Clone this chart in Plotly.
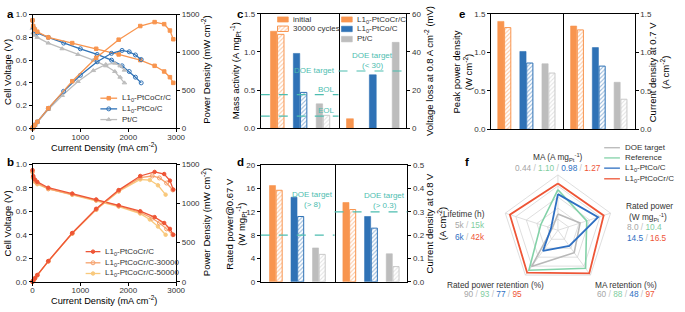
import plotly.graph_objects as go

W, H = 685, 312
FONT = "Liberation Sans, Arial, sans-serif"

# ---------------- data ----------------
# panel a : polarization / power curves
a_i_cocr = [0, 15, 50, 100, 330, 830, 1330, 1800, 2250, 2550, 2750, 2870, 2940]
a_v_cocr = [0.95, 0.90, 0.87, 0.85, 0.80, 0.75, 0.70, 0.65, 0.60, 0.55, 0.50, 0.45, 0.40]
a_p_cocr = [0, 14, 44, 85, 264, 622, 931, 1170, 1350, 1402, 1375, 1291, 1176]

a_i_co = [0, 15, 50, 100, 330, 650, 1000, 1350, 1650, 1870, 2020, 2150, 2270]
a_v_co = [0.95, 0.89, 0.86, 0.84, 0.80, 0.75, 0.70, 0.65, 0.60, 0.55, 0.50, 0.45, 0.40]
a_p_co = [0, 13, 43, 84, 264, 488, 700, 878, 990, 1028, 1010, 968, 908]

a_i_pt = [0, 15, 50, 100, 330, 620, 950, 1270, 1530, 1720, 1830, 1920]
a_v_pt = [0.88, 0.84, 0.82, 0.80, 0.75, 0.70, 0.65, 0.60, 0.55, 0.50, 0.45, 0.40]
a_p_pt = [0, 13, 41, 80, 248, 434, 618, 762, 842, 860, 824, 768]

# panel b : durability curves
b_i_0 = [0, 15, 50, 100, 330, 830, 1330, 1800, 2250, 2550, 2750, 2870, 2940]
b_v_0 = [0.95, 0.90, 0.87, 0.85, 0.80, 0.75, 0.70, 0.65, 0.60, 0.55, 0.50, 0.45, 0.40]
b_p_0 = [0, 14, 44, 85, 264, 622, 931, 1170, 1350, 1402, 1375, 1291, 1176]

b_i_30 = [0, 15, 50, 100, 330, 830, 1330, 1800, 2250, 2500, 2650, 2800, 2930]
b_v_30 = [0.94, 0.89, 0.86, 0.84, 0.79, 0.745, 0.695, 0.645, 0.59, 0.54, 0.50, 0.45, 0.40]
b_p_30 = [0, 13, 43, 84, 261, 618, 924, 1161, 1328, 1350, 1325, 1260, 1172]

b_i_50 = [0, 15, 50, 100, 330, 830, 1330, 1800, 2250, 2450, 2620, 2780]
b_v_50 = [0.93, 0.88, 0.85, 0.83, 0.79, 0.74, 0.69, 0.64, 0.58, 0.53, 0.47, 0.40]
b_p_50 = [0, 13, 42, 83, 261, 614, 918, 1152, 1305, 1298, 1231, 1112]

catalysts = ["L1<sub>0</sub>-PtCoCr/C", "L1<sub>0</sub>-PtCo/C", "Pt/C"]
cat_pos = [0, 1, 2]

# panel c
c_ma_initial = [1.27, 0.98, 0.32]
c_ma_cycled = [1.23, 0.47, 0.17]
c_doe_bol = 0.44
c_doe_eol = 0.16
c_vloss = [5, 28, 45]
c_doe_vloss = 30

# panel d
d_rated_initial = [16.5, 14.5, 5.8]
d_rated_cycled = [15.7, 11.2, 4.7]
d_doe_rated = 8
d_j08_initial = [0.34, 0.28, 0.12]
d_j08_cycled = [0.31, 0.23, 0.065]
d_doe_j08 = 0.3

# panel e
e_ppd_initial = [1.40, 1.01, 0.85]
e_ppd_cycled = [1.32, 0.86, 0.73]
e_j07_initial = [1.34, 1.06, 0.61]
e_j07_cycled = [1.29, 0.82, 0.39]

# panel f : radar
f_axes = ["MA", "Rated power", "MA retention", "Rated power retention", "Lifetime"]
f_scale_lo = [0, 0, 20, 60, 0]
f_scale_hi = [1.5, 19, 100, 97, 46]
f_doe = [0.44, 8.0, 60, 90, 5]
f_ref = [1.10, 10.4, 88, 93, 15]
f_ptco = [0.98, 14.5, 48, 77, 6]
f_ptcocr = [1.27, 16.5, 97, 95, 42]

# ---------------- style ----------------
ORANGE = "#F8954F"
BLUE = "#2F72B6"
GRAY = "#BDBDBD"
GRAY_H = "#C9C9C9"
TEAL = "#4DBDB0"
RED = "#EE5536"
LORANGE = "#F6A16C"
YELLOW = "#F9C97C"
GREEN = "#83D2A8"
RBLUE = "#2E6FC2"
RGRAY = "#B8B8B8"
TICK = "#333333"
bar_cols = [ORANGE, BLUE, GRAY]
hatch_cols = [ORANGE, BLUE, GRAY_H]


def P(x):
    return x / W


def Q(y):
    return 1 - y / H


fig = go.Figure()

# ---------- panels a, b ----------
def curve(xs, ys, col, sym, size, xa, ya, fillc=None):
    fig.add_trace(go.Scatter(x=xs, y=ys, xaxis=xa, yaxis=ya, mode="lines+markers",
                             line=dict(color=col, width=1.3),
                             marker=dict(symbol=sym, size=size, color=fillc or col,
                                         line=dict(color=col, width=1)),
                             showlegend=False, cliponaxis=False))

curve(a_i_pt, a_v_pt, GRAY, "triangle-up", 4, "x", "y")
curve(a_i_pt, a_p_pt, GRAY, "triangle-up", 4, "x", "y2")
curve(a_i_co, a_v_co, BLUE, "circle-open", 4, "x", "y")
curve(a_i_co, a_p_co, BLUE, "circle-open", 4, "x", "y2")
curve(a_i_cocr, a_v_cocr, ORANGE, "square", 3.5, "x", "y")
curve(a_i_cocr, a_p_cocr, ORANGE, "square", 3.5, "x", "y2")

curve(b_i_50, b_v_50, YELLOW, "circle", 3.5, "x2", "y3")
curve(b_i_50, b_p_50, YELLOW, "circle", 3.5, "x2", "y4")
curve(b_i_30, b_v_30, LORANGE, "circle-open", 4, "x2", "y3")
curve(b_i_30, b_p_30, LORANGE, "circle-open", 4, "x2", "y4")
curve(b_i_0, b_v_0, RED, "circle", 3.5, "x2", "y3")
curve(b_i_0, b_p_0, RED, "circle", 3.5, "x2", "y4")

# ---------- bars ----------
BW = 0.28


def solid(vals, xa, ya, off=-0.295, width=BW):
    fig.add_trace(go.Bar(x=cat_pos, y=vals, xaxis=xa, yaxis=ya, offset=off, width=width,
                         marker=dict(color=bar_cols, line=dict(color=bar_cols, width=0.6)),
                         showlegend=False))


def hatched(vals, xa, ya, off=0.015, width=BW):
    fig.add_trace(go.Bar(x=cat_pos, y=vals, xaxis=xa, yaxis=ya, offset=off, width=width,
                         marker=dict(color="white",
                                     pattern=dict(shape="/", fgcolor=hatch_cols, bgcolor="white",
                                                  size=3, solidity=0.35),
                                     line=dict(color=hatch_cols, width=1)),
                         showlegend=False))


solid(c_ma_initial, "x3", "y5")
hatched(c_ma_cycled, "x3", "y5")
solid(c_vloss, "x4", "y6", off=-0.15, width=0.3)
solid(d_rated_initial, "x5", "y7")
hatched(d_rated_cycled, "x5", "y7")
solid(d_j08_initial, "x6", "y8")
hatched(d_j08_cycled, "x6", "y8")
solid(e_ppd_initial, "x7", "y9")
hatched(e_ppd_cycled, "x7", "y9")
solid(e_j07_initial, "x8", "y10")
hatched(e_j07_cycled, "x8", "y10")

# ---------- radar ----------
def norm(vals):
    r = [(v - lo) / (hi - lo) for v, lo, hi in zip(vals, f_scale_lo, f_scale_hi)]
    return r + r[:1]

theta = f_axes + f_axes[:1]
for vals, col, w in [(f_doe, RGRAY, 1.6), (f_ref, GREEN, 1.6), (f_ptco, RBLUE, 1.8), (f_ptcocr, RED, 1.8)]:
    fig.add_trace(go.Scatterpolar(r=norm(vals), theta=theta, mode="lines",
                                  line=dict(color=col, width=w), showlegend=False))

# ---------- legend samples (overlay pixel axes) ----------
def leg_line(x0, x1, y, col, sym=None, size=4, fillc=None):
    fig.add_trace(go.Scatter(x=[x0, x1], y=[y, y], xaxis="x9", yaxis="y11", mode="lines",
                             line=dict(color=col, width=1.3), showlegend=False, hoverinfo="skip"))
    if sym:
        fig.add_trace(go.Scatter(x=[(x0 + x1) / 2], y=[y], xaxis="x9", yaxis="y11", mode="markers",
                                 marker=dict(symbol=sym, size=size, color=fillc or col,
                                             line=dict(color=col, width=1)),
                                 showlegend=False, hoverinfo="skip"))


def leg_box(x0, x1, y0, y1, col, hatch=False):
    if hatch:
        m = dict(color="white", pattern=dict(shape="/", fgcolor=col, bgcolor="white", size=3, solidity=0.35),
                 line=dict(color=col, width=1))
    else:
        m = dict(color=col, line=dict(color=col, width=0.6))
    fig.add_trace(go.Bar(x=[x0], y=[y1 - y0], base=[y0], width=[x1 - x0], offset=0,
                         xaxis="x9", yaxis="y11", marker=m, showlegend=False, hoverinfo="skip"))


leg_line(100, 117, 97, ORANGE, "square", 3.5)
leg_line(100, 117, 108, BLUE, "circle-open", 4)
leg_line(100, 117, 119, GRAY, "triangle-up", 4)
leg_line(85, 100, 255, RED, "circle", 3.5)
leg_line(85, 100, 266.5, LORANGE, "circle-open", 4)
leg_line(85, 100, 277.5, YELLOW, "circle", 3.5)
leg_box(280, 291, 13.3, 18.6, ORANGE)
leg_box(280, 291, 22.7, 28.3, ORANGE, hatch=True)
leg_box(345, 356, 13.3, 18.6, ORANGE)
leg_box(345, 356, 22.9, 28.5, BLUE)
leg_box(345, 356, 33.3, 39.0, GRAY)
leg_line(612, 628, 148, RGRAY)
leg_line(612, 628, 158.5, GREEN)
leg_line(612, 628, 169, RBLUE)
leg_line(612, 628, 180, RED)

# ---------- axes ----------
tickfont = dict(family=FONT, size=8, color=TICK)


def xax(x0, x1, anchor, rng=None, dtick=None, labels=True):
    d = dict(domain=[P(x0), P(x1)], anchor=anchor, showline=True, linecolor="black", linewidth=1,
             mirror=True, showgrid=False, zeroline=False, tickfont=tickfont, fixedrange=True)
    if labels:
        d.update(ticks="outside", ticklen=3, tickcolor="black", tickwidth=1, range=rng, dtick=dtick,
                 ticklabelstandoff=-2)
    else:
        d.update(ticks="", showticklabels=False, range=rng)
    return d


def yax(y0, y1, anchor, rng, dtick, side="left", mirror=False, fmt=None, overlay=None):
    d = dict(domain=[Q(y1), Q(y0)], anchor=anchor, range=rng, dtick=dtick, side=side,
             showline=True, linecolor="black", linewidth=1, mirror=mirror, showgrid=False,
             zeroline=False, ticks="outside", ticklen=3, tickcolor="black", tickwidth=1,
             tickfont=tickfont, fixedrange=True)
    if fmt:
        d["tickformat"] = fmt
    if overlay:
        d["overlaying"] = overlay
        d.pop("domain")
    return d


layout = dict(
    width=W, height=H, margin=dict(l=0, r=0, t=0, b=0, pad=0),
    paper_bgcolor="white", plot_bgcolor="rgba(0,0,0,0)",
    barmode="overlay", showlegend=False, font=dict(family=FONT, size=8, color=TICK),
    # a
    xaxis=xax(31, 177, "y", [0, 3000], 1000),
    yaxis=yax(11, 128, "x", [0, 1.0], 0.2, fmt=".1f"),
    yaxis2=yax(11, 128, "x", [0, 1500], 500, side="right", overlay="y"),
    # b
    xaxis2=xax(31, 177, "y3", [0, 3000], 1000),
    yaxis3=yax(165, 286, "x2", [0, 1.0], 0.2, fmt=".1f"),
    yaxis4=yax(165, 286, "x2", [0, 1500], 500, side="right", overlay="y3"),
    # c
    xaxis3=xax(263, 342, "y5", [-0.72, 2.68], labels=False),
    yaxis5=yax(10, 128, "x3", [0, 1.5], 0.5, mirror=True, fmt=".1f"),
    xaxis4=xax(342, 411, "y6", [-0.5, 2.47], labels=False),
    yaxis6=yax(10, 128, "x4", [0, 60], 20, side="right"),
    # d
    xaxis5=xax(263, 338, "y7", [-0.7, 2.73], labels=False),
    yaxis7=yax(166, 286, "x5", [0, 20], 4, mirror=True),
    xaxis6=xax(338, 412, "y8", [-0.68, 2.68], labels=False),
    yaxis8=yax(166, 286, "x6", [0, 0.5], 0.1, side="right", fmt=".1f"),
    # e
    xaxis7=xax(497, 570, "y9", [-0.6, 2.65], labels=False),
    yaxis9=yax(10, 129, "x7", [0, 1.5], 0.5, mirror=True, fmt=".1f"),
    xaxis8=xax(570, 643, "y10", [-0.65, 2.65], labels=False),
    yaxis10=yax(10, 129, "x8", [0, 1.5], 0.5, side="right", fmt=".1f"),
    # overlay pixel axes for legend samples
    xaxis9=dict(domain=[0, 1], range=[0, W], visible=False, anchor="y11", fixedrange=True),
    yaxis11=dict(domain=[0, 1], range=[H, 0], visible=False, anchor="x9", fixedrange=True),
    polar=dict(
        domain=dict(x=[P(565 - 57), P(565 + 57)], y=[Q(233 + 57), Q(233 - 57)]),
        bgcolor="rgba(0,0,0,0)", gridshape="linear",
        radialaxis=dict(range=[0, 1], tickvals=[0.2, 0.4, 0.6, 0.8, 1.0], showticklabels=False,
                        ticks="", showline=False, gridcolor="#D6D6D6", gridwidth=0.8),
        angularaxis=dict(rotation=90, direction="clockwise", showticklabels=False, ticks="",
                         showline=True, linecolor="#D6D6D6", linewidth=0.8,
                         gridcolor="#D6D6D6", gridwidth=0.8),
    ),
)
fig.update_layout(**layout)

# ---------- DOE target lines ----------
def hline(xref, yref, y):
    fig.add_shape(type="line", xref=xref, yref=yref, x0=0, x1=1, y0=y, y1=y,
                  line=dict(color=TEAL, width=1.2, dash="dash"))

hline("x3 domain", "y5", c_doe_bol)
hline("x3 domain", "y5", c_doe_eol)
hline("x4 domain", "y6", c_doe_vloss)
hline("x5 domain", "y7", d_doe_rated)
hline("x6 domain", "y8", d_doe_j08)

# ---------- text ----------
def txt(x, y, s, size=8.5, color=TICK, angle=0, xa="center", bold=False):
    if bold:
        s = "<b>" + s + "</b>"
    fig.add_annotation(x=P(x), y=Q(y), xref="paper", yref="paper", text=s, showarrow=False,
                       textangle=angle, xanchor=xa, yanchor="middle",
                       font=dict(family=FONT, size=size, color=color))

# panel letters
for lx, ly, l in [(9, 10, "a"), (9, 163, "b"), (242, 10, "c"), (242, 163, "d"), (467, 10, "e"), (473, 163, "f")]:
    txt(lx, ly, l, size=11.5, color="black", bold=True)

# axis titles
TS = 9.5
txt(104, 147.5, "Current Density (mA cm<sup>-2</sup>)", size=9.2, color="black")
txt(104, 305, "Current Density (mA cm<sup>-2</sup>)", size=9.2, color="black")
txt(6, 70, "Cell Voltage (V)", size=TS, color="black", angle=-90)
txt(6, 226, "Cell Voltage (V)", size=TS, color="black", angle=-90)
txt(207, 68, "Power Density (mW cm<sup>-2</sup>)", size=TS, color="black", angle=-90)
txt(207, 225, "Power Density (mW cm<sup>-2</sup>)", size=TS, color="black", angle=-90)
txt(237, 69, "Mass activity (A mg<sub>Pt</sub><sup>-1</sup>)", size=TS, color="black", angle=-90)
txt(434, 69, "Voltage loss at 0.8 A cm<sup>-2</sup> (mV)", size=TS, color="black", angle=-90)
txt(238, 226, "Rated power@0.67 V<br>(W mg<sub>Pt</sub><sup>-1</sup>)", size=TS, color="black", angle=-90)
txt(441, 226, "Current density at 0.8 V<br>(A cm<sup>-2</sup>)", size=TS, color="black", angle=-90)
txt(468, 70, "Peak power density<br>(W cm<sup>-2</sup>)", size=TS, color="black", angle=-90)
txt(668, 70, "Current density at 0.7 V<br>(A cm<sup>-2</sup>)", size=TS, color="black", angle=-90)

# legends text
LS = 8
txt(119.5, 97, catalysts[0], size=LS, xa="left")
txt(119.5, 108, catalysts[1], size=LS, xa="left")
txt(119.5, 119, catalysts[2], size=LS, xa="left")
txt(103, 255, catalysts[0], size=LS, xa="left")
txt(103, 266.5, catalysts[0] + "-30000", size=LS, xa="left")
txt(103, 277.5, catalysts[0] + "-50000", size=LS, xa="left")
txt(293.5, 16, "initial", size=LS, xa="left")
txt(293.5, 25.5, "30000 cycles", size=LS, xa="left")
txt(358.5, 16, catalysts[0], size=LS, xa="left")
txt(358.5, 26, catalysts[1], size=LS, xa="left")
txt(358.5, 36, catalysts[2], size=LS, xa="left")
txt(631, 148, "DOE target", size=LS, xa="left")
txt(631, 158.5, "Reference", size=LS, xa="left")
txt(631, 169, catalysts[1], size=LS, xa="left")
txt(631, 180, catalysts[0], size=LS, xa="left")

# DOE annotations
txt(340, 68, "DOE target", size=LS, color=TEAL, xa="right")
txt(340, 88, "BOL", size=LS, color=TEAL, xa="right")
txt(340, 110, "EOL", size=LS, color=TEAL, xa="right")
txt(377, 53.5, "DOE target", size=LS, color=TEAL)
txt(377, 63.5, "(< 30)", size=LS, color=TEAL)
txt(316, 196, "DOE target", size=LS, color=TEAL)
txt(316, 206, "(> 8)", size=LS, color=TEAL)
txt(389, 197.5, "DOE target", size=LS, color=TEAL)
txt(389, 207.5, "(> 0.3)", size=LS, color=TEAL)

# radar labels
RCOLS = ["#A6A6A6", "#7FCDA0", "#2E6FC2", "#EE5536"]


def col_span(vals, idx, fmt):
    parts = ['<span style="color:%s">%s</span>' % (RCOLS[i], fmt(vals[i])) for i in idx]
    return '<span style="color:#C0C0C0"> / </span>'.join(parts)

RS = 8.3
col_vals = list(zip(f_doe, f_ref, f_ptco, f_ptcocr))
txt(565, 158, "MA (A mg<sub>Pt</sub><sup>-1</sup>)", size=RS)
txt(565, 169, col_span(col_vals[0], [0, 1, 2, 3], lambda v: "%.2f" % v), size=RS)
txt(632, 208, "Rated power", size=RS, xa="left")
txt(635, 219.5, "(W mg<sub>Pt</sub><sup>-1</sup>)", size=RS, xa="left")
txt(633, 230, col_span(col_vals[1], [0, 1], lambda v: "%.1f" % v), size=RS, xa="left")
txt(633, 240.5, col_span(col_vals[1], [2, 3], lambda v: "%.1f" % v), size=RS, xa="left")
txt(634, 289, "MA retention (%)", size=RS)
txt(634, 299, col_span(col_vals[2], [0, 1, 2, 3], lambda v: "%d" % v), size=RS)
txt(502, 289, "Rated power retention (%)", size=RS)
txt(499, 299, col_span(col_vals[3], [0, 1, 2, 3], lambda v: "%d" % v), size=RS)
txt(493, 216.5, "Lifetime (h)", size=RS, xa="right")
txt(493, 228, col_span(col_vals[4], [0, 1], lambda v: "%dk" % v), size=RS, xa="right")
txt(493, 239.5, col_span(col_vals[4], [2, 3], lambda v: "%dk" % v), size=RS, xa="right")

fig.write_html("out.html",
               config={"displayModeBar": False, "staticPlot": True},
               post_script="document.body.style.margin='0';document.body.style.padding='0';"
                           "document.body.style.overflow='hidden';")
